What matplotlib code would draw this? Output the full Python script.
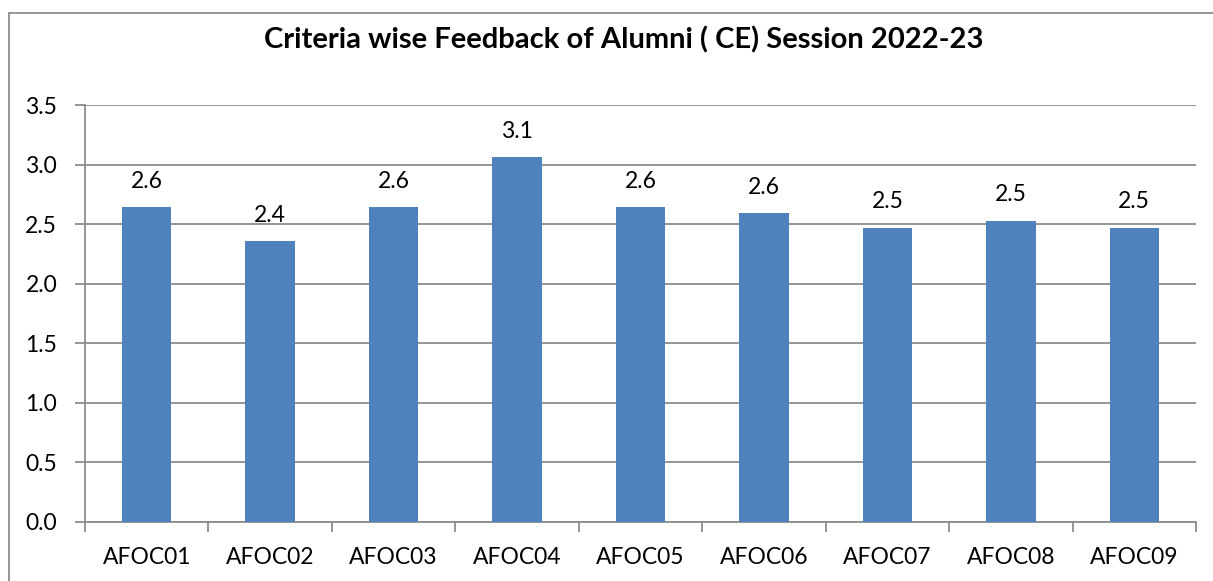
import matplotlib
matplotlib.use("Agg")
import matplotlib.pyplot as plt
from matplotlib.patches import Rectangle
import numpy as np

categories = ["AFOC01", "AFOC02", "AFOC03", "AFOC04", "AFOC05",
              "AFOC06", "AFOC07", "AFOC08", "AFOC09"]
values = [2.64, 2.36, 2.64, 3.06, 2.64, 2.59, 2.47, 2.53, 2.47]
yticks = [0.0, 0.5, 1.0, 1.5, 2.0, 2.5, 3.0, 3.5]
title = "Criteria wise Feedback of Alumni ( CE) Session 2022-23"

plt.rcParams['font.family'] = ['Lato', 'DejaVu Sans']
W, H = 1213, 581
fig = plt.figure(figsize=(W / 100, H / 100), dpi=100)
fig.patch.set_facecolor("white")

# outer chart border (only top and left visible in the crop)
fig.patches.append(Rectangle((9 / W, -0.1), 1.2, 1 - 13 / H + 0.1,
                             transform=fig.transFigure, fill=False,
                             edgecolor="#8c8c8c", linewidth=1.3))

ax = fig.add_axes([85 / W, (H - 522) / H, (1196 - 85) / W, (522 - 105) / H])
x = np.arange(len(categories))
bars = ax.bar(x, values, width=0.4, color="#4F81BD", zorder=3)

for xi, v in zip(x, values):
    ax.annotate(f"{v:.1f}", (xi, v), xytext=(0, 11), textcoords="offset points",
                ha="center", va="bottom", fontsize=16.5, color="black")

ax.set_xlim(-0.5, len(categories) - 0.5)
ax.set_ylim(0, 3.5)
ax.set_yticks(yticks)
ax.set_yticklabels([f"{t:.1f}" for t in yticks], fontsize=16.5)
ax.yaxis.grid(True, color="#8c8c8c", linewidth=1.3, zorder=0)

ax.set_xticks(np.arange(-0.5, len(categories), 1.0))
ax.set_xticklabels([])
ax.set_xticks(x, minor=True)
ax.set_xticklabels(categories, minor=True, fontsize=16.5)
ax.tick_params(axis="x", which="minor", length=0, pad=18)
ax.tick_params(axis="x", which="major", length=7, width=1.3, color="#8c8c8c", direction="out")
ax.tick_params(axis="y", length=7, width=1.3, color="#8c8c8c", pad=13)

for s in ["top", "right"]:
    ax.spines[s].set_visible(False)
for s in ["left", "bottom"]:
    ax.spines[s].set_color("#8c8c8c")
    ax.spines[s].set_linewidth(1.3)

fig.text(623.5 / W, 1 - 40 / H, title, ha="center", va="center",
         fontsize=21, fontweight="bold")

fig.savefig("out.png", dpi=100)
